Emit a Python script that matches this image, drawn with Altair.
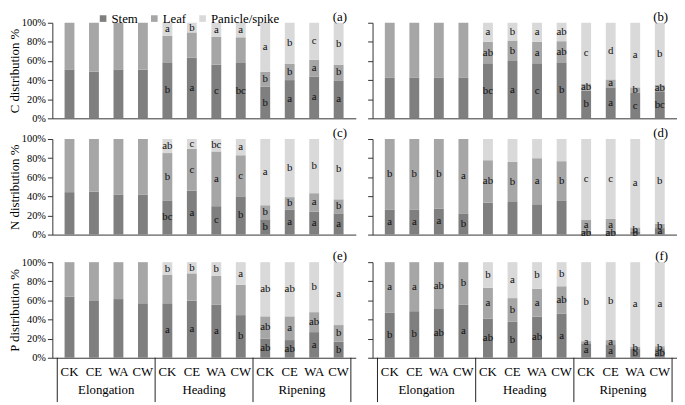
import altair as alt
import pandas as pd

SERIF = "Liberation Serif"

treatments = ["CK", "CE", "WA", "CW"]
stages = ["Elongation", "Heading", "Ripening"]
parts = ["Stem", "Leaf", "Panicle/spike"]
colors = ["#7f7f7f", "#a6a6a6", "#d9d9d9"]
yticks = [0, 20, 40, 60, 80, 100]

# (a) C distribution, left
a_stem = [51.2, 48.8, 51.2, 51.0, 58.6, 63.6, 56.2, 57.9, 33.0, 40.0, 43.8, 39.7]
a_leaf = [48.8, 51.2, 48.8, 49.0, 27.9, 26.3, 29.3, 26.9, 15.8, 16.9, 17.5, 16.5]
a_pan = [0, 0, 0, 0, 13.5, 10.1, 14.5, 15.2, 51.2, 43.1, 38.7, 43.8]
a_stem_sig = ["", "", "", "", "b", "a", "c", "bc", "b", "a", "a", "a"]
a_leaf_sig = ["", "", "", "", "", "", "", "", "b", "b", "a", "b"]
a_pan_sig = ["", "", "", "", "a", "b", "a", "a", "a", "b", "c", "b"]

# (b) C distribution, right
b_stem = [42.8, 42.8, 42.8, 42.8, 57.6, 60.0, 57.6, 58.6, 29.0, 32.4, 26.6, 28.3]
b_leaf = [57.2, 57.2, 57.2, 57.2, 22.4, 21.4, 22.4, 22.1, 6.9, 8.3, 5.8, 6.9]
b_pan = [0, 0, 0, 0, 20.0, 18.6, 20.0, 19.3, 64.1, 59.3, 67.6, 64.8]
b_stem_sig = ["", "", "", "", "bc", "a", "c", "b", "b", "a", "c", "bc"]
b_leaf_sig = ["", "", "", "", "ab", "b", "a", "ab", "ab", "a", "b", "ab"]
b_pan_sig = ["", "", "", "", "a", "b", "a", "ab", "c", "d", "a", "b"]

# (c) N distribution, left
c_stem = [44.4, 45.0, 42.0, 42.0, 35.8, 46.0, 29.7, 40.0, 16.0, 26.3, 23.9, 22.2]
c_leaf = [55.6, 55.0, 58.0, 58.0, 49.5, 43.8, 57.3, 43.0, 14.7, 12.9, 19.4, 14.7]
c_pan = [0, 0, 0, 0, 14.7, 10.2, 13.0, 17.0, 69.3, 60.8, 56.7, 63.1]
c_stem_sig = ["", "", "", "", "bc", "a", "c", "b", "b", "a", "a", "a"]
c_leaf_sig = ["", "", "", "", "b", "c", "a", "c", "b", "b", "a", "b"]
c_pan_sig = ["", "", "", "", "ab", "c", "bc", "a", "a", "b", "b", "b"]

# (d) N distribution, right
d_stem = [26.3, 26.3, 27.3, 22.2, 33.4, 34.1, 31.7, 35.2, 4.1, 4.1, 2.7, 6.8]
d_leaf = [73.7, 73.7, 72.7, 77.8, 44.4, 42.0, 48.2, 41.6, 11.6, 12.3, 4.8, 4.5]
d_pan = [0, 0, 0, 0, 22.2, 23.9, 20.1, 23.2, 84.3, 83.6, 92.5, 88.7]
d_stem_sig = ["a", "a", "a", "b", "", "", "", "", "ab", "ab", "b", "a"]
d_leaf_sig = ["b", "b", "b", "a", "ab", "b", "a", "b", "a", "a", "b", "b"]
d_pan_sig = ["", "", "", "", "", "", "", "", "c", "c", "a", "b"]

# (e) P distribution, left
e_stem = [63.8, 59.4, 61.4, 57.0, 57.0, 59.7, 55.4, 44.6, 20.1, 18.5, 26.8, 16.8]
e_leaf = [36.2, 40.6, 38.6, 43.0, 29.6, 28.6, 30.2, 31.6, 23.2, 24.8, 20.9, 17.4]
e_pan = [0, 0, 0, 0, 13.4, 11.7, 14.4, 23.8, 56.7, 56.7, 52.3, 65.8]
e_stem_sig = ["", "", "", "", "a", "a", "a", "b", "ab", "ab", "a", "b"]
e_leaf_sig = ["", "", "", "", "", "", "", "", "ab", "a", "ab", "b"]
e_pan_sig = ["", "", "", "", "b", "b", "b", "a", "ab", "ab", "b", "a"]

# (f) P distribution, right
f_stem = [47.0, 48.7, 51.0, 55.4, 41.0, 37.6, 43.0, 46.3, 15.1, 14.1, 9.1, 9.1]
f_leaf = [53.0, 51.3, 49.0, 44.6, 32.2, 24.8, 29.1, 28.5, 2.3, 4.4, 2.6, 3.0]
f_pan = [0, 0, 0, 0, 26.8, 37.6, 27.9, 25.2, 82.6, 81.5, 88.3, 87.9]
f_stem_sig = ["b", "b", "ab", "a", "ab", "b", "ab", "a", "a", "a", "b", "ab"]
f_leaf_sig = ["a", "a", "ab", "b", "a", "b", "a", "ab", "a", "a", "b", "b"]
f_pan_sig = ["", "", "", "", "b", "a", "b", "b", "b", "b", "a", "a"]

N = len(treatments) * len(stages)
H = 97
WL = 308
WR = 309


def build_df(stem, leaf, pan, s_sig, l_sig, p_sig):
    rows = []
    for i in range(N):
        lo = 0.0
        for part, val, sig in zip(parts, (stem[i], leaf[i], pan[i]),
                                  (s_sig[i], l_sig[i], p_sig[i])):
            if val > 0:
                rows.append(dict(idx=i, part=part, lo=lo, hi=lo + val,
                                 mid=lo + val / 2, sig=sig))
            lo += val
    return pd.DataFrame(rows)


legend = alt.Legend(orient="none", legendX=45, legendY=-11, direction="horizontal",
                    title=None, symbolType="square", symbolSize=45,
                    symbolStrokeWidth=0, labelFont=SERIF, labelFontSize=13,
                    labelColor="#000", columnPadding=10, labelOffset=2, padding=0)


def panel(df, label, ytitle, left, bottom, width):
    xscale = alt.Scale(domain=[-0.5, N - 0.5], nice=False, zero=False)
    yscale = alt.Scale(domain=[0, 100], nice=False)
    xaxis = alt.Axis(labels=False, ticks=False, grid=False, title=None,
                     domainColor="#333")
    if left:
        yaxis = alt.Axis(values=yticks, labelExpr="datum.value + '%'", title=ytitle,
                         grid=False, tickSize=5, tickColor="#333", domainColor="#333",
                         labelFont=SERIF, labelFontSize=10.5, labelColor="#000",
                         labelPadding=2, labelFlush=False, labelOverlap=False,
                         titleFont=SERIF, titleFontSize=13, titleFontWeight="normal",
                         titleColor="#000", titlePadding=0)
    else:
        yaxis = alt.Axis(values=yticks, labels=False, title=None, grid=False,
                         tickSize=5, tickColor="#333", domainColor="#333")
    X = lambda f: alt.X(f, scale=xscale, axis=xaxis)
    Y = lambda f: alt.Y(f, scale=yscale, axis=yaxis)

    bars = alt.Chart(df).mark_bar(size=10).encode(
        x=X("idx:Q"), y=Y("lo:Q"), y2="hi:Q",
        color=alt.Color("part:N", scale=alt.Scale(domain=parts, range=colors),
                        legend=legend),
    )
    texts = alt.Chart(df[df["sig"] != ""]).mark_text(
        font=SERIF, fontSize=11, color="#111", baseline="middle"
    ).encode(x=X("idx:Q"), y=Y("mid:Q"), text="sig:N")
    tag = alt.Chart(pd.DataFrame({"t": [label]})).mark_text(
        font=SERIF, fontSize=13, color="#000", align="right", baseline="middle"
    ).encode(x=alt.value(width - 9), y=alt.value(-6), text="t:N")
    layers = [bars, texts, tag]
    if bottom:
        per = len(treatments)
        names = pd.DataFrame({"idx": list(range(N)),
                              "name": [treatments[i % per] for i in range(N)]})
        ntext = alt.Chart(names).mark_text(
            font=SERIF, fontSize=13, color="#000", baseline="middle"
        ).encode(x=X("idx:Q"), y=alt.value(H + 15), text="name:N")
        bounds = pd.DataFrame({"b": [k * per - 0.5 for k in range(len(stages) + 1)]})
        rules = alt.Chart(bounds).mark_rule(color="#222", strokeWidth=1).encode(
            x=X("b:Q"), y=alt.value(H), y2=alt.value(H + 45))
        groups = pd.DataFrame({"stage": stages,
                               "c": [k * per + (per - 1) / 2 for k in range(len(stages))]})
        gtext = alt.Chart(groups).mark_text(
            font=SERIF, fontSize=13, color="#000", baseline="middle"
        ).encode(x=X("c:Q"), y=alt.value(H + 33), text="stage:N")
        layers += [ntext, rules, gtext]
    return alt.layer(*layers).properties(width=width, height=H)


pa = panel(build_df(a_stem, a_leaf, a_pan, a_stem_sig, a_leaf_sig, a_pan_sig),
           "(a)", "C distribution %", True, False, WL)
pb = panel(build_df(b_stem, b_leaf, b_pan, b_stem_sig, b_leaf_sig, b_pan_sig),
           "(b)", None, False, False, WR)
pc = panel(build_df(c_stem, c_leaf, c_pan, c_stem_sig, c_leaf_sig, c_pan_sig),
           "(c)", "N distribution %", True, False, WL)
pd_ = panel(build_df(d_stem, d_leaf, d_pan, d_stem_sig, d_leaf_sig, d_pan_sig),
            "(d)", None, False, False, WR)
pe = panel(build_df(e_stem, e_leaf, e_pan, e_stem_sig, e_leaf_sig, e_pan_sig),
           "(e)", "P distribution %", True, True, WL)
pf = panel(build_df(f_stem, f_leaf, f_pan, f_stem_sig, f_leaf_sig, f_pan_sig),
           "(f)", None, False, True, WR)

row1 = alt.hconcat(pa, pb, spacing=11)
row2 = alt.hconcat(pc, pd_, spacing=11)
row3 = alt.hconcat(pe, pf, spacing=11)

chart = alt.vconcat(
    alt.vconcat(row1, row2, spacing=3), row3, spacing=10
).properties(padding=0).configure_view(stroke=None)

chart.save("out.html", embed_options={"renderer": "svg", "actions": False})
